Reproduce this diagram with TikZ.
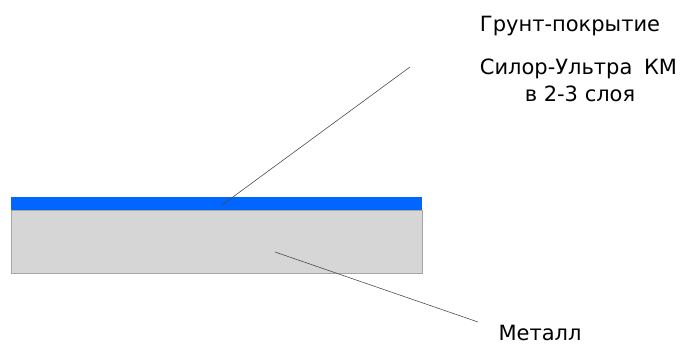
\documentclass[tikz,border=0pt]{standalone}
\usepackage{fontspec}
\setmainfont{DejaVu Sans}
\usetikzlibrary{positioning}

\begin{document}
\begin{tikzpicture}[x=1pt, y=-1pt,
    label text/.style={font=\fontsize{21}{28}\selectfont, align=center, inner sep=0pt, anchor=base},
    leader/.style={draw=black!70, line width=0.6pt}]
            \useasboundingbox (0,0) rectangle (694,345);

            % Layers
            \fill[fill={rgb,255:red,0;green,102;blue,255}] (11,197) rectangle (422,210);
            \draw[draw=black!35, fill=black!16] (11,210) rectangle (422,273);

            % Labels
            \node[label text] (primer) at (570,32) {Грунт-покрытие};
            \node[label text] (product) at (580,102) {\hspace{-3pt}Силор-Ультра\hspace{5pt} КМ\\в 2-3 слоя};
            \node[label text] (metal) at (540,340) {Металл};

            % Leader lines
            \coordinate (primerend) at (410,67);
            \coordinate (primerpt) at (222,205);
            \coordinate (metalend) at (478,322);
            \coordinate (metalpt) at (275,252);
            \draw[leader] (primerpt) -- (primerend);
            \draw[leader] (metalpt) -- (metalend);
        \end{tikzpicture}
\end{document}
